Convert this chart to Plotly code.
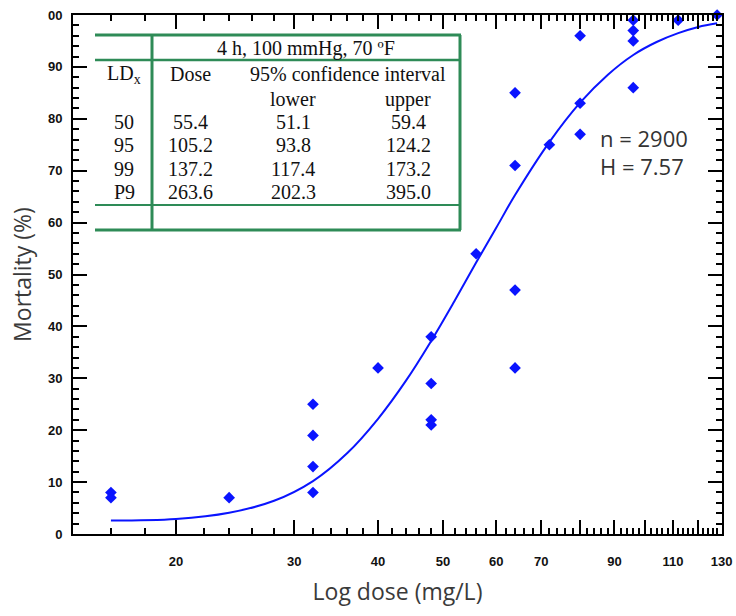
import plotly.graph_objects as go

# ---------------- data ----------------
obs_dose = [16, 16, 24, 32, 32, 32, 32, 40, 48, 48, 48, 48, 56,
            64, 64, 64, 64, 72, 80, 80, 80, 96, 96, 96, 96, 112, 128]
obs_mort = [8, 7, 7, 25, 19, 13, 8, 32, 38, 29, 22, 21, 54,
            85, 71, 47, 32, 75, 96, 83, 77, 99, 97, 95, 86, 99, 100]

fit_dose = [16, 20, 24, 28, 32, 36, 40, 44, 48, 52, 56, 60, 64,
            72, 80, 88, 96, 104, 112, 120, 128]
fit_mort = [2.6, 2.9, 4.1, 6.4, 10.2, 15.6, 22.2, 29.5, 37.2, 44.9, 52.3, 59.0, 65.3,
            75.5, 83.1, 88.5, 92.3, 94.8, 96.5, 97.7, 98.4]

x_major = [20, 30, 40, 50, 60, 70, 80, 90, 100, 110, 120, 130]
x_labels = ["20", "30", "40", "50", "60", "70", "", "90", "", "110", "", "130"]
x_minor = [v for v in range(16, 130, 2) if v not in x_major]
y_major = [0, 10, 20, 30, 40, 50, 60, 70, 80, 90, 100]
y_labels = ["0", "10", "20", "30", "40", "50", "60", "70", "80", "90", "00"]

table_title = "4 h, 100 mmHg, 70 ºF"
ld_labels = ["50", "95", "99", "P9"]
dose_vals = ["55.4", "105.2", "137.2", "263.6"]
lower_vals = ["51.1", "93.8", "117.4", "202.3"]
upper_vals = ["59.4", "124.2", "173.2", "395.0"]
stats_text = ["n = 2900", "H = 7.57"]

# ---------------- layout geometry ----------------
W, H = 736, 616
L, R, T, B = 73, 14, 15, 82
PW, PH = W - L - R, H - T - B


def px(x):
    return (x - L) / PW


def py(y):
    return (H - B - y) / PH


BLUE = "#0a14ff"
GREEN = "#2e8b57"

fig = go.Figure()
fig.add_trace(go.Scatter(x=fit_dose, y=fit_mort, mode="lines",
                         line=dict(color=BLUE, width=2, shape="spline"),
                         showlegend=False, hoverinfo="skip"))
fig.add_trace(go.Scatter(x=obs_dose, y=obs_mort, mode="markers",
                         marker=dict(symbol="diamond", size=9, color=BLUE),
                         cliponaxis=False, showlegend=False))

tickfont = dict(family="Liberation Sans, Arial", size=13, color="#111111")
axis_common = dict(showline=True, linecolor="black", linewidth=2, mirror="ticks",
                   ticks="inside", ticklen=14, tickwidth=2, tickcolor="black",
                   showgrid=False, zeroline=False, tickfont=tickfont,
                   automargin=False)
title_font = dict(family="Open Sans", size=23, color="#3a3a3a")

fig.update_xaxes(type="log", range=[1.1476, 2.1145], tickmode="array",
                 tickvals=x_major, ticktext=["<b>%s</b>" % t if t else "" for t in x_labels],
                 ticklabelstandoff=14,
                 minor=dict(tickmode="array", tickvals=x_minor, ticks="inside",
                            ticklen=6, tickwidth=1.5, tickcolor="black"),
                 title=dict(text="Log dose (mg/L)", font=title_font, standoff=16),
                 **axis_common)
fig.update_yaxes(range=[0, 100], tickmode="array", tickvals=y_major,
                 ticktext=["<b>%s</b>" % t for t in y_labels],
                 ticklabelstandoff=6,
                 minor=dict(tickmode="array", tickvals=[v for v in range(2, 100, 2) if v % 10],
                            ticks="inside", ticklen=6, tickwidth=1.5, tickcolor="black"),
                 title=dict(text="Mortality (%)", font=title_font, standoff=10),
                 **axis_common)

# ---------------- table ----------------
shapes = []
tx0, tx1, tvx = 95, 461, 152
for yy, w in [(35, 3), (60, 2.5), (205, 2), (230, 3)]:
    shapes.append(dict(type="line", xref="paper", yref="paper",
                       x0=px(tx0), x1=px(tx1), y0=py(yy), y1=py(yy),
                       line=dict(color=GREEN, width=w)))
for xx in [tvx, 460]:
    shapes.append(dict(type="line", xref="paper", yref="paper",
                       x0=px(xx), x1=px(xx), y0=py(35), y1=py(230),
                       line=dict(color=GREEN, width=3)))

serif = dict(family="Liberation Serif, Times New Roman", size=20, color="#111111")
ann = []


def add_text(text, x, y, font=serif, xanchor="center"):
    ann.append(dict(text=text, xref="paper", yref="paper", x=px(x), y=py(y),
                    xanchor=xanchor, yanchor="middle", showarrow=False, font=font))


add_text(table_title, 306, 48)
add_text("LD<sub>x</sub>", 124, 74)
add_text("Dose", 190, 74)
add_text("95% confidence interval", 348, 74)
add_text("lower", 293, 99)
add_text("upper", 408, 99)
row_y = [122, 145, 169, 192]
for i in range(len(ld_labels)):
    add_text(ld_labels[i], 124, row_y[i])
    add_text(dose_vals[i], 190, row_y[i])
    add_text(lower_vals[i], 293, row_y[i])
    add_text(upper_vals[i], 408, row_y[i])

sfont = dict(family="Open Sans", size=22, color="#333333")
add_text(stats_text[0], 598, 138, sfont, "left")
add_text(stats_text[1], 598, 166, sfont, "left")

fig.update_layout(width=W, height=H, margin=dict(l=L, r=R, t=T, b=B),
                  plot_bgcolor="white", paper_bgcolor="white",
                  shapes=shapes, annotations=ann, showlegend=False)

fig.write_html("out.html", config={"displayModeBar": False},
               post_script="document.body.style.margin='0';document.body.style.padding='0';")
